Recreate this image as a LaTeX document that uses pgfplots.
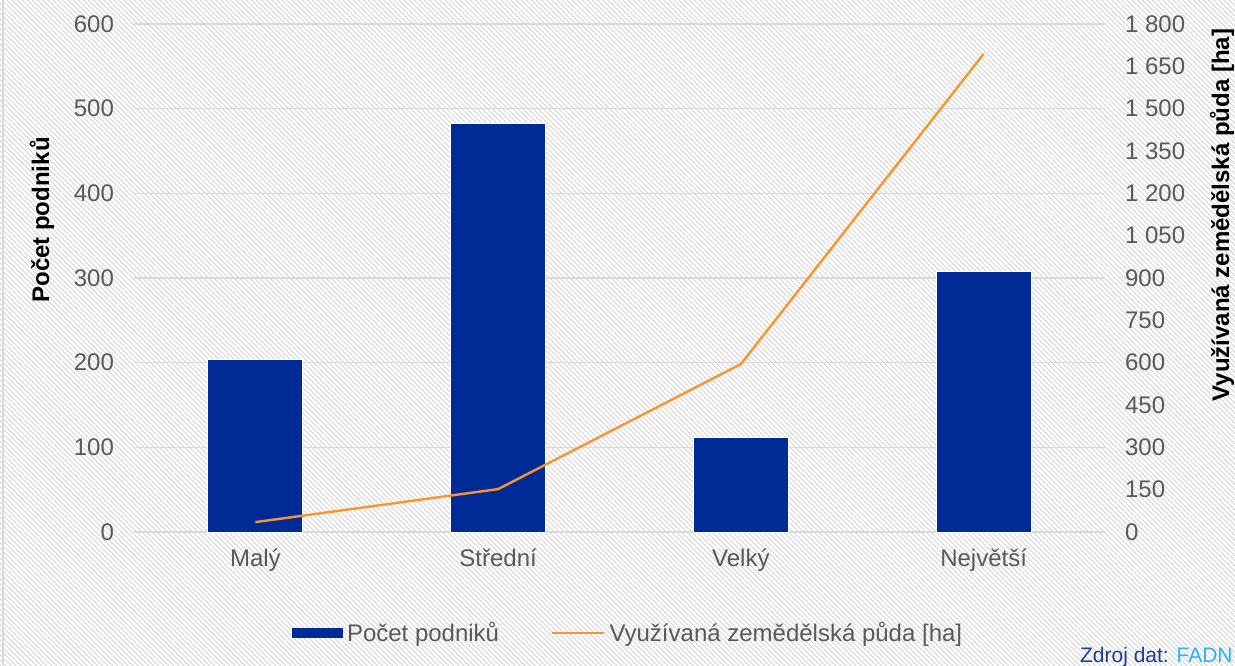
\documentclass[border=0pt]{standalone}
\usepackage{pgfplots}
\pgfplotsset{compat=1.18}
\usetikzlibrary{patterns.meta}
\usepackage{fontspec}
\setmainfont{Liberation Sans}
\definecolor{barblue}{HTML}{002B96}
\definecolor{lineor}{HTML}{F7962F}
\definecolor{tickgray}{HTML}{595959}
\definecolor{gridgray}{HTML}{D9D9D9}
\definecolor{hatch}{HTML}{D4D4D4}
\definecolor{srcdark}{HTML}{1F3C96}
\definecolor{srclight}{HTML}{29B5F0}
\begin{document}
\begin{tikzpicture}[x=1pt,y=1pt]
\useasboundingbox (0,0) rectangle (617.5,332.5);
\fill[white] (0,0) rectangle (617.5,332.5);
\fill[pattern={Lines[angle=-45,distance=1.8pt,line width=0.45pt]}, pattern color=hatch] (0,0) rectangle (617.5,332.5);
\draw[gridgray, line width=0.8pt] (1.5,0) -- (1.5,332.5);
\begin{axis}[
  at={(67pt,66.5pt)}, anchor=south west,
  scale only axis, width=485.5pt, height=254pt,
  xmin=-0.5, xmax=3.5, ymin=0, ymax=600,
  xtick={0,1,2,3}, xticklabels={Malý,Střední,Velký,Největší},
  ytick={0,100,...,600},
  axis line style={draw=none},
  major tick length=0pt,
  ymajorgrids, grid style={gridgray, line width=0.8pt},
  tick label style={font=\fontsize{12}{14}\selectfont, text=tickgray},
  yticklabel shift=6.5pt,
  xticklabel shift=5pt,
  /pgf/number format/assume math mode=true,
]
\addplot[ybar, bar width=47.5pt, fill=barblue, draw=white, line width=0.5pt] coordinates {(0,204) (1,482) (2,112) (3,308)};
\end{axis}
\begin{axis}[
  at={(67pt,66.5pt)}, anchor=south west,
  scale only axis, width=485.5pt, height=254pt,
  xmin=-0.5, xmax=3.5, ymin=0, ymax=1800,
  ytick={0,150,...,1800},
  axis y line*=right, hide x axis,
  axis line style={draw=none},
  major tick length=0pt,
  tick label style={font=\fontsize{12}{14}\selectfont, text=tickgray},
  yticklabel shift=6.5pt,
  /pgf/number format/assume math mode=true,
  /pgf/number format/1000 sep={\ },
  legend style={at={(0.51,-0.199)}, anchor=center, draw=none, fill=none,
    legend columns=2, font=\fontsize{12}{14}\selectfont, text=tickgray,
    /tikz/every even column/.append style={column sep=24pt}},
]
\addlegendimage{legend image code/.code={\fill[barblue] (0pt,-2.3pt) rectangle (25pt,2.3pt);}}
\addlegendentry{Počet podniků}
\addplot[lineor, line width=1.2pt, legend image code/.code={\draw[lineor,line width=1.2pt] (0pt,0pt) -- (26pt,0pt);}] coordinates {(0,35) (1,152) (2,595) (3,1694)};
\addlegendentry{Využívaná zemědělská půda [ha]}
\end{axis}
\node[rotate=90, font=\bfseries\fontsize{12}{14}\selectfont] at (21,222.5) {Počet podniků};
\node[rotate=90, font=\bfseries\fontsize{12}{14}\selectfont] at (611,225) {Využívaná zemědělská půda [ha]};
\node[anchor=base east, font=\fontsize{10.5}{13}\selectfont, inner sep=0pt] at (616.5,1.2) {\textcolor{srcdark}{Zdroj dat:} \textcolor{srclight}{FADN}};
\end{tikzpicture}
\end{document}
